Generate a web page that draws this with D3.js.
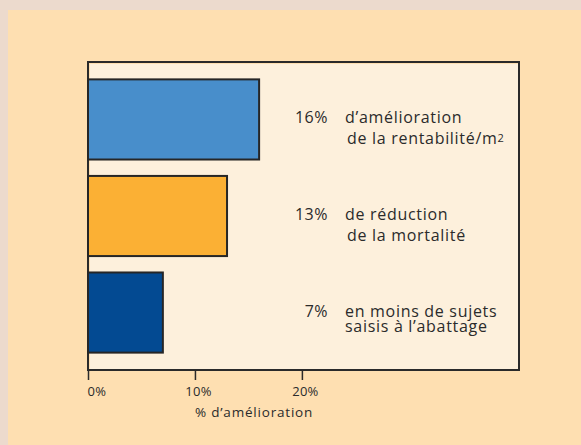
<!DOCTYPE html>
<html>
<head>
<meta charset="utf-8">
<script src="https://cdn.jsdelivr.net/npm/d3@7"></script>
<style>
  html, body { margin: 0; padding: 0; background: #ecdacd; }
  svg { display: block; }
  text { font-family: "Open Sans", sans-serif; fill: #2b2b2b; }
</style>
</head>
<body>
<script>
// chart values
var categories = ["rentabilite", "mortalite", "saisies"];
var values = [16, 13, 7];
var percentLabels = ["16%", "13%", "7%"];
var descriptions = [
  ["d\u2019amélioration", "de la rentabilité/m"],
  ["de réduction", "de la mortalité"],
  ["en moins de sujets", "saisis à l\u2019abattage"]
];
var barColors = ["#488ecb", "#fbb034", "#034a92"];
var tickValues = [0, 10, 20];
var axisTitle = "% d\u2019amélioration";

var width = 581, height = 445;

var svg = d3.select("body").append("svg")
    .attr("width", width)
    .attr("height", height);

// peach panel, pinkish strip on top and left
svg.append("rect")
    .attr("x", 8).attr("y", 10)
    .attr("width", width - 8).attr("height", height - 10)
    .attr("fill", "#fedfb1");

var plot = { left: 88, right: 519, top: 62, bottom: 370 };

var x = d3.scaleLinear()
    .domain([0, 40.3])
    .range([plot.left, plot.right]);

var y = d3.scaleBand()
    .domain(categories)
    .range([plot.top, plot.bottom])
    .paddingInner(0.17)
    .paddingOuter(0.18);

// plot frame
svg.append("rect")
    .attr("x", plot.left + 2).attr("y", plot.top + 2)
    .attr("width", plot.right - plot.left - 2)
    .attr("height", plot.bottom - plot.top - 2)
    .attr("fill", "#fdf0dc");
svg.append("rect")
    .attr("x", plot.left).attr("y", plot.top)
    .attr("width", plot.right - plot.left)
    .attr("height", plot.bottom - plot.top)
    .attr("fill", "none")
    .attr("stroke", "#2a2a2a")
    .attr("stroke-width", 2);

// bars
svg.selectAll(".bar")
    .data(categories)
    .enter().append("rect")
    .attr("class", "bar")
    .attr("x", x(0))
    .attr("y", function(d) { return y(d); })
    .attr("width", function(d, i) { return x(values[i]) - x(0); })
    .attr("height", y.bandwidth())
    .attr("fill", function(d, i) { return barColors[i]; })
    .attr("stroke", "#262626")
    .attr("stroke-width", 2);

// annotations (two lines in one text element)
var pctRight = 328, descLeft = 345;
categories.forEach(function(c, i) {
  var base = y(c) + y.bandwidth() / 2 + 4;
  var gap = i == 2 ? 15 : 21;
  svg.append("text")
      .attr("x", pctRight).attr("y", base)
      .attr("text-anchor", "end")
      .style("font-size", "16px")
      .style("letter-spacing", "0.5px")
      .text(percentLabels[i]);
  var t = svg.append("text")
      .attr("y", base)
      .style("font-size", "16px")
      .style("letter-spacing", "0.7px");
  t.append("tspan")
      .attr("x", descLeft)
      .text(descriptions[i][0]);
  t.append("tspan")
      .attr("x", descLeft + (i == 2 ? 0 : 2))
      .attr("y", base + gap)
      .text(descriptions[i][1]);
  if (i == 0) {
    t.append("tspan")
        .attr("dy", -2)
        .style("font-size", "11px")
        .text("2");
  }
});

// x axis
var axis = svg.append("g")
    .attr("transform", "translate(0," + plot.bottom + ")")
    .call(d3.axisBottom(x)
        .tickValues(tickValues)
        .tickSize(10)
        .tickFormat(function(d) { return d + "%"; }));
axis.select(".domain").remove();
axis.selectAll(".tick line")
    .attr("stroke", "#2a2a2a")
    .attr("stroke-width", 1.5);
axis.selectAll(".tick text")
    .attr("y", 26)
    .attr("dy", 0)
    .attr("dx", function(d) { return d == 0 ? -1 : 3; })
    .attr("text-anchor", function(d) { return d == 0 ? "start" : "middle"; })
    .style("font-family", "Open Sans, sans-serif")
    .style("font-size", "13px")
    .style("letter-spacing", "0.3px")
    .attr("fill", "#2b2b2b");

svg.append("text")
    .attr("x", x(10)).attr("y", 417)
    .style("font-size", "13.5px")
    .style("letter-spacing", "0.8px")
    .text(axisTitle);
</script>
</body>
</html>
